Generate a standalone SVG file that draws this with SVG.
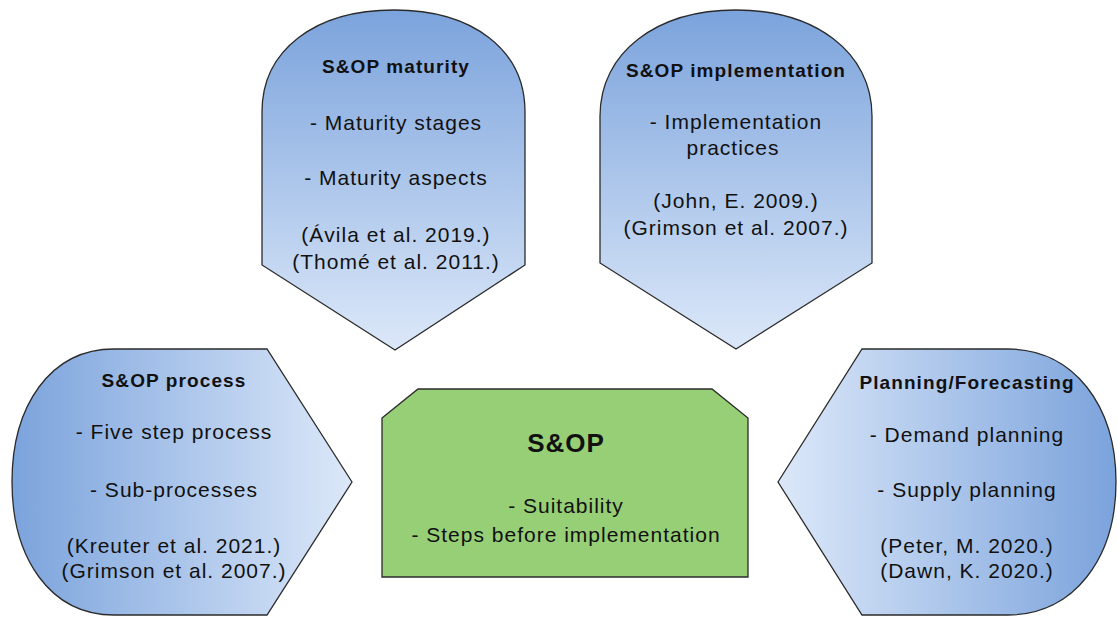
<svg xmlns="http://www.w3.org/2000/svg" width="1117" height="617" viewBox="0 0 1117 617">
  <defs>
    <linearGradient id="gradDown" x1="0" y1="0" x2="0" y2="1">
      <stop offset="0" stop-color="#7ba3dc"/>
      <stop offset="1" stop-color="#dce8f9"/>
    </linearGradient>
    <linearGradient id="gradRight" x1="0" y1="0" x2="1" y2="0">
      <stop offset="0" stop-color="#7ba3dc"/>
      <stop offset="1" stop-color="#dce8f9"/>
    </linearGradient>
    <linearGradient id="gradLeft" x1="1" y1="0" x2="0" y2="0">
      <stop offset="0" stop-color="#7ba3dc"/>
      <stop offset="1" stop-color="#dce8f9"/>
    </linearGradient>
  </defs>
  <style>
    .shape { stroke: #2b2b2b; stroke-width: 1.3; stroke-linejoin: miter; }
    .title { font-family: "Liberation Sans", Arial, sans-serif; font-weight: bold; font-size: 19px; letter-spacing: 1.1px; fill: #111; text-anchor: middle; }
    .body { font-family: "Liberation Sans", Arial, sans-serif; font-size: 21px; letter-spacing: 1px; fill: #111; text-anchor: middle; }
    .main { font-family: "Liberation Sans", Arial, sans-serif; font-weight: bold; font-size: 26px; letter-spacing: 1px; fill: #111; text-anchor: middle; }
  </style>
  <rect width="1117" height="617" fill="#ffffff"/>

  <!-- top-left pentagon-arch pointing down -->
  <g id="maturity">
    <path class="shape" fill="url(#gradDown)" d="M262,265 L262,112 C262,50 315,10 394,10 C473,10 525,50 525,112 L525,265 L395,350 Z"/>
    <text class="title" x="396" y="73">S&amp;OP maturity</text>
    <text class="body" x="396" y="130">- Maturity stages</text>
    <text class="body" x="396" y="185">- Maturity aspects</text>
    <text class="body" x="396" y="242">(Ávila et al. 2019.)</text>
    <text class="body" x="396" y="269">(Thomé et al. 2011.)</text>
  </g>

  <!-- top-right pentagon-arch pointing down -->
  <g id="implementation">
    <path class="shape" fill="url(#gradDown)" d="M600,263 L600,116 C600,52 657,10 736,10 C815,10 872,52 872,116 L872,263 L736,349 Z"/>
    <text class="title" x="736" y="77">S&amp;OP implementation</text>
    <text class="body" x="736" y="129">- Implementation</text>
    <text class="body" x="733" y="155">practices</text>
    <text class="body" x="736" y="208">(John, E. 2009.)</text>
    <text class="body" x="736" y="235">(Grimson et al. 2007.)</text>
  </g>

  <!-- bottom-left arch pointing right -->
  <g id="process">
    <path class="shape" fill="url(#gradRight)" d="M352,482 L267,349 L114,349 C50,349 12,406 12,482 C12,558 50,615 114,615 L267,615 Z"/>
    <text class="title" x="174" y="387">S&amp;OP process</text>
    <text class="body" x="174" y="439">- Five step process</text>
    <text class="body" x="174" y="497">- Sub-processes</text>
    <text class="body" x="174" y="553">(Kreuter et al. 2021.)</text>
    <text class="body" x="174" y="578">(Grimson et al. 2007.)</text>
  </g>

  <!-- bottom-right arch pointing left -->
  <g id="planning">
    <path class="shape" fill="url(#gradLeft)" d="M778,482 L862,349 L1008,349 C1074,349 1116,406 1116,482 C1116,558 1074,615 1008,615 L862,615 Z"/>
    <text class="title" x="967" y="389">Planning/Forecasting</text>
    <text class="body" x="967" y="442">- Demand planning</text>
    <text class="body" x="967" y="497">- Supply planning</text>
    <text class="body" x="967" y="553">(Peter, M. 2020.)</text>
    <text class="body" x="967" y="578">(Dawn, K. 2020.)</text>
  </g>

  <!-- central hub -->
  <g id="sop">
    <path class="shape" fill="#97cf76" d="M382,418 L418,389 L712,389 L748,418 L748,577 L382,577 Z"/>
    <text class="main" x="566" y="452">S&amp;OP</text>
    <text class="body" x="566" y="513">- Suitability</text>
    <text class="body" x="566" y="542">- Steps before implementation</text>
  </g>
</svg>
